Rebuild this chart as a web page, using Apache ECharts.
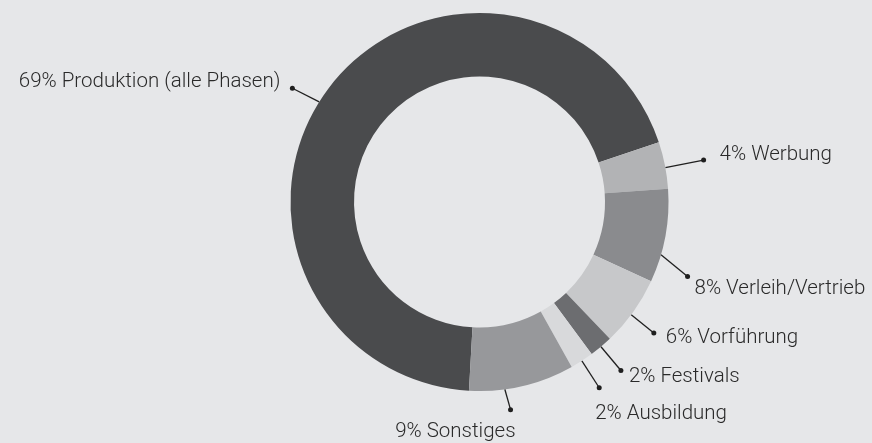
<!DOCTYPE html>
<html><head><meta charset="utf-8">
<script src="https://cdn.jsdelivr.net/npm/echarts@6/dist/echarts.min.js"></script>
<style>html,body{margin:0;padding:0;background:#e6e7e9;}#c{width:872px;height:443px;}</style>
</head><body><div id="c"></div>
<script>
// ---- data ----
const categories = ['Produktion (alle Phasen)', 'Werbung', 'Verleih/Vertrieb', 'Vorführung', 'Festivals', 'Ausbildung', 'Sonstiges'];
const values = [69, 4, 8, 6, 2, 2, 9];
const colors = ['#4a4b4d', '#b2b3b5', '#8a8b8e', '#c7c8ca', '#6c6d70', '#d8d9db', '#97989b'];

// ---- layout / style ----
const CX = 479.5, CY = 202, R0 = 125.5, R1 = 189, START = 266.8;
// leader-line tweaks per label: angle shift at start/end (deg), length, text placement relative to dot
const guide = [
  { a0: 5.4,  a1: 6.1,  len: 30, align: 'right', dx: -12, dy: -6 },
  { a0: -0.7, a1: -0.6, len: 39, align: 'left',  dx: 16,  dy: -5 },
  { a0: -5.8, a1: -9.3, len: 32, align: 'left',  dx: 7,   dy: 12 },
  { a0: -1,   a1: -1.3, len: 29, align: 'left',  dx: 12,  dy: 5 },
  { a0: 0,    a1: 0,    len: 31, align: 'left',  dx: 8,   dy: 6 },
  { a0: 0,    a1: 0,    len: 32, align: 'left',  dx: -4,  dy: 26 },
  { a0: -5.3, a1: -4.5, len: 21, align: 'right', dx: 5,   dy: 22 }
];

const total = values.reduce((s, v) => s + v, 0);
function midAngle(i) {
  let cum = 0;
  for (let k = 0; k < i; k++) cum += values[k];
  return START - (cum + values[i] / 2) / total * 360;
}
function pt(angDeg, r) {
  const a = angDeg * Math.PI / 180;
  return [CX + r * Math.cos(a), CY - r * Math.sin(a)];
}
function guidePts(i) {
  const m = midAngle(i), g = guide[i];
  return [pt(m + g.a0, R1), pt(m + g.a1, R1 + g.len)];
}

const pieData = categories.map((name, i) => ({ name: name, value: values[i], itemStyle: { color: colors[i] } }));

const chart = echarts.init(document.getElementById('c'), null, { renderer: 'canvas' });
chart.setOption({
  backgroundColor: '#e6e7e9',
  animation: false,
  series: [
    {
      type: 'pie',
      center: [CX, CY],
      radius: [R0, R1],
      startAngle: START,
      clockwise: true,
      avoidLabelOverlap: false,
      emphasis: { disabled: true },
      data: pieData,
      label: {
        show: true,
        position: 'outside',
        formatter: '{d| }',
        rich: { d: { width: 5, height: 5, borderRadius: 2.5, backgroundColor: '#1f1f1f', fontSize: 4, lineHeight: 5 } }
      },
      labelLine: { show: true, length: 30, length2: 0, smooth: false, lineStyle: { color: '#1f1f1f', width: 1.3 } },
      labelLayout: function (p) {
        const pts = guidePts(p.dataIndex);
        return { x: pts[1][0], y: pts[1][1], align: 'center', verticalAlign: 'middle', labelLinePoints: pts };
      }
    },
    {
      type: 'pie',
      center: [CX, CY],
      radius: [R0, R1],
      startAngle: START,
      clockwise: true,
      silent: true,
      avoidLabelOverlap: false,
      emphasis: { disabled: true },
      data: categories.map((name, i) => ({ name: name, value: values[i] })),
      itemStyle: { color: 'rgba(0,0,0,0)' },
      label: {
        show: true,
        position: 'outside',
        color: '#2a2a2a',
        fontFamily: 'Roboto',
        fontWeight: 300,
        fontSize: 20.5,
        formatter: function (p) { return p.value + '% ' + p.name; }
      },
      labelLine: { show: false },
      labelLayout: function (p) {
        const e = guidePts(p.dataIndex)[1], g = guide[p.dataIndex];
        return { x: e[0] + g.dx, y: e[1] + g.dy, align: g.align, verticalAlign: 'middle' };
      }
    }
  ]
});
</script>
</body></html>
